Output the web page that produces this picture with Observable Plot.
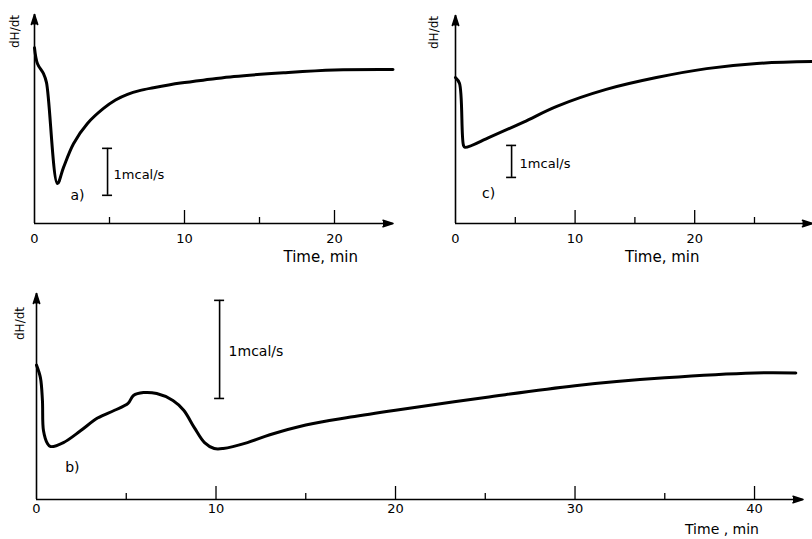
<!DOCTYPE html>
<html><head><meta charset="utf-8">
<script src="https://cdn.jsdelivr.net/npm/d3@7"></script>
<script src="https://cdn.jsdelivr.net/npm/@observablehq/plot@0.6"></script>
<style>
body{margin:0;background:#fff}
#wrap{position:relative;width:812px;height:539px;overflow:hidden;background:#fff}
#wrap svg{position:absolute;}
</style></head><body><div id="wrap"></div>
<script>
// Panel a
const timeA = [0, 0.2, 0.6, 0.8, 1.53, 1.93, 2.6, 3.53, 4.6, 5.4, 6.2, 7.0, 7.93, 9.73, 11.7, 13.3, 16.6, 20, 23.9];
const dHA   = [3.74, 3.40, 3.19, 3.0, 0.85, 1.19, 1.70, 2.13, 2.45, 2.63, 2.75, 2.83, 2.89, 2.99, 3.07, 3.13, 3.21, 3.27, 3.28];
// Panel b
const timeB = [0, 0.22, 0.33, 0.39, 0.61, 0.78, 1.5, 2.45, 3.4, 4.35, 5.1, 5.4, 5.96, 6.7, 7.6, 8.2, 8.8, 9.36, 9.9, 10.4, 11.75, 13, 15, 17.5, 20, 25, 30, 35, 40, 42.3];
const dHB   = [1.37, 1.24, 1.01, 0.70, 0.57, 0.54, 0.58, 0.70, 0.83, 0.91, 0.98, 1.06, 1.09, 1.08, 1.01, 0.91, 0.73, 0.58, 0.52, 0.52, 0.58, 0.66, 0.76, 0.84, 0.91, 1.04, 1.16, 1.24, 1.29, 1.29];
// Panel c
const timeC = [0, 0.33, 0.67, 0.8, 2.87, 5.69, 8.47, 12.6, 16.8, 21, 25.2, 29.85];
const dHC   = [4.56, 4.38, 2.44, 2.38, 2.70, 3.17, 3.66, 4.19, 4.56, 4.84, 5.0, 5.06];

// Ticks
const majorA = [10, 20], minorA = [5, 15], labelsA = [0, 10, 20];
const majorB = [10, 20, 30, 40], minorB = [5, 15, 25, 35], labelsB = [0, 10, 20, 30, 40];
const majorC = [10, 20], minorC = [5, 15, 25], labelsC = [0, 10, 20];

// 1 mcal/s scale bars (time position, lower and upper end)
const barA = [{t: 4.87, lo: 0.6, hi: 1.6}];
const barB = [{t: 10.2, lo: 1.03, hi: 2.03}];
const barC = [{t: 4.69, lo: 1.44, hi: 2.44}];

// Panel letters
const letterA = [{t: 2.87, v: 0.6, label: "a)"}];
const letterB = [{t: 2.0, v: 0.33, label: "b)"}];
const letterC = [{t: 2.76, v: 0.94, label: "c)"}];

const FONT = "DejaVu Sans";

function panel(o) {
  const data = o.t.map((d, i) => ({t: d, v: o.v[i]}));
  const bar = o.bar;
  const svg = Plot.plot({
    width: o.width, height: o.height,
    marginLeft: o.mL, marginRight: o.mR, marginTop: o.mT, marginBottom: o.mB,
    x: {domain: [0, o.xMax]},
    y: {domain: [0, o.yMax], axis: null},
    style: {fontFamily: FONT, background: "transparent", color: "#000", overflow: "visible"},
    marks: [
      Plot.ruleX([0], {strokeWidth: 1.6, stroke: "#000"}),
      Plot.ruleY([0], {strokeWidth: 1.6, stroke: "#000"}),
      Plot.vector([0], {frameAnchor: "top-left", shape: "spike", length: 10, r: 3.2, rotate: 0, anchor: "end", fill: "#000", stroke: "#000"}),
      Plot.vector([0], {frameAnchor: "bottom-right", shape: "spike", length: 10, r: 3.2, rotate: 90, anchor: "end", fill: "#000", stroke: "#000"}),
      Plot.axisX(o.major, {tickSize: -13, tickFormat: () => "", label: null, strokeWidth: 1.3}),
      Plot.axisX(o.minor, {tickSize: -6, tickFormat: () => "", label: null, strokeWidth: 1.3}),
      Plot.axisX(o.labels, {tickSize: 0, tickPadding: o.pad, fontSize: 13, label: null}),
      Plot.line(data, {x: "t", y: "v", strokeWidth: 3, stroke: "#000", curve: "catmull-rom", strokeLinejoin: "round", strokeLinecap: "round"}),
      Plot.ruleX(bar, {x: "t", y1: "lo", y2: "hi", strokeWidth: 1.6, stroke: "#000"}),
      Plot.ruleY(bar, {x1: "t", x2: "t", y: "lo", insetLeft: -5, insetRight: -5, strokeWidth: 1.6, stroke: "#000"}),
      Plot.ruleY(bar, {x1: "t", x2: "t", y: "hi", insetLeft: -5, insetRight: -5, strokeWidth: 1.6, stroke: "#000"}),
      Plot.text(bar, {x: "t", y: d => (d.lo + d.hi) / 2, text: () => "1mcal/s", textAnchor: "start", dx: o.barDx, dy: o.barDy, fontSize: o.barFont, fill: "#000"}),
      Plot.text(o.letter, {x: "t", y: "v", text: "label", fontSize: 14, fill: "#000"}),
      Plot.text([o.timeLabel], {frameAnchor: "bottom-right", textAnchor: "end", lineAnchor: "middle", dx: o.timeDx, dy: o.timeDy, fontSize: o.timeFont, fill: "#000"}),
      Plot.text(["dH/dt"], {frameAnchor: "top-left", textAnchor: "middle", lineAnchor: "middle", rotate: -90, dx: o.yDx, dy: o.yDy, fontSize: 12, fill: "#000"})
    ]
  });
  svg.style.left = o.left + "px";
  svg.style.top = o.top + "px";
  document.getElementById("wrap").appendChild(svg);
}

panel({t: timeA, v: dHA, xMax: 23.9, yMax: 4.45, major: majorA, minor: minorA, labels: labelsA,
  width: 400, height: 270, mL: 34, mR: 7.5, mT: 14, mB: 47, left: 0, top: 0, pad: 10,
  bar: barA, barDx: 6, barDy: 3, barFont: 13, letter: letterA,
  timeLabel: "Time, min", timeFont: 15, timeDx: -35, timeDy: 34, yDx: -19, yDy: 17});

panel({t: timeC, v: dHC, xMax: 29.85, yMax: 6.5, major: majorC, minor: minorC, labels: labelsC,
  width: 412, height: 270, mL: 55, mR: 0, mT: 15, mB: 47, left: 400, top: 0, pad: 10,
  bar: barC, barDx: 8, barDy: 2, barFont: 13, letter: letterC,
  timeLabel: "Time, min", timeFont: 15, timeDx: -113, timeDy: 34, yDx: -21, yDy: 17});

panel({t: timeB, v: dHB, xMax: 42.7, yMax: 2.10, major: majorB, minor: minorB, labels: labelsB,
  width: 812, height: 269, mL: 36, mR: 9.5, mT: 23, mB: 40, left: 0, top: 270, pad: 4,
  bar: barB, barDx: 9, barDy: 2, barFont: 14, letter: letterB,
  timeLabel: "Time , min", timeFont: 14, timeDx: -44, timeDy: 30, yDx: -16, yDy: 30});
</script>
</body></html>
